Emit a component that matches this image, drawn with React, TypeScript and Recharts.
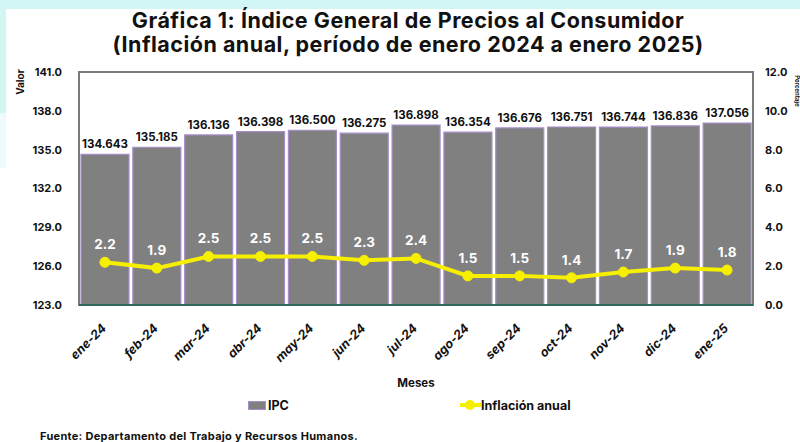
import React from 'react';
import {
  ComposedChart, Bar, Line, XAxis, YAxis, LabelList, ReferenceArea,
} from 'recharts';

const months = ['ene-24', 'feb-24', 'mar-24', 'abr-24', 'may-24', 'jun-24', 'jul-24', 'ago-24', 'sep-24', 'oct-24', 'nov-24', 'dic-24', 'ene-25'];
const ipcValues = [134.643, 135.185, 136.136, 136.398, 136.5, 136.275, 136.898, 136.354, 136.676, 136.751, 136.744, 136.836, 137.056];
const inflationValues = [2.2, 1.9, 2.5, 2.5, 2.5, 2.3, 2.4, 1.5, 1.5, 1.4, 1.7, 1.9, 1.8];
const leftTicks = [123, 126, 129, 132, 135, 138, 141];
const rightTicks = [0, 2, 4, 6, 8, 10, 12];

const data = months.map((m, i) => ({ month: m, ipc: ipcValues[i], inflacion: inflationValues[i] }));

const FONT = "Inter, 'Open Sans', sans-serif";
const YELLOW = '#f7ef00';
const BAR_FILL = '#808080';
const BAR_STROKE = '#a68cc8';

const XTick = (props: any) => {
  const { x, y, payload } = props;
  return (
    <g transform={`translate(${x + 2},${y + 16}) rotate(-45)`}>
      <text x={0} y={0} textAnchor="end"
        fontFamily={FONT} fontStyle="italic" fontWeight={700} fontSize={12.5} fill="#111">
        {payload.value}
      </text>
    </g>
  );
};

const ValorLabel = (props: any) => {
  const { viewBox } = props;
  return (
    <text x={viewBox.x + 24} y={viewBox.y + 10} transform={`rotate(-90, ${viewBox.x + 24}, ${viewBox.y + 10})`}
      textAnchor="middle" fontFamily={FONT} fontWeight={700} fontSize={10} fill="#111">Valor</text>
  );
};

const RightLabel = (props: any) => {
  const { viewBox } = props;
  const x = viewBox.x + viewBox.width - 5;
  const y = viewBox.y + 19;
  return (
    <text x={x} y={y} transform={`rotate(90, ${x}, ${y})`}
      textAnchor="middle" fontFamily={FONT} fontWeight={700} fontSize={6} fill="#111">Porcentaje</text>
  );
};

export default function App() {
  return (
    <div style={{ position: 'absolute', left: 0, top: 0, width: 800, height: 442, background: '#ffffff', overflow: 'hidden', fontFamily: FONT }}>
      <div style={{ position: 'absolute', left: 0, top: 0, width: 800, height: 9, background: '#d2f6f4' }} />
      <div style={{ position: 'absolute', left: 0, top: 0, width: 6, height: 113, background: '#d2f6f4' }} />
      <div style={{ position: 'absolute', left: 0, top: 113, width: 6, height: 55, background: '#eefbfa' }} />
      <div style={{ position: 'absolute', left: 0, top: 8, width: 800, textAlign: 'center', fontWeight: 700, fontSize: 21.5, lineHeight: '24px', color: '#111', letterSpacing: 0.5 }}>
        <div style={{ paddingLeft: 16 }}>Gráfica 1: Índice General de Precios al Consumidor</div>
        <div style={{ paddingLeft: 16 }}>(Inflación anual, período de enero 2024 a enero 2025)</div>
      </div>
      <div style={{ position: 'absolute', left: 0, top: 0 }}>
        <ComposedChart width={800} height={442} data={data}
          margin={{ top: 72, right: 0, left: 0, bottom: 47 }} barCategoryGap={2}>
          <XAxis dataKey="month" xAxisId={0} height={90} tick={<XTick />} tickLine={false} tickSize={0} tickMargin={8}
            axisLine={{ stroke: '#2d6a5d', strokeWidth: 2 }} interval={0}
            label={{ value: 'Meses', position: 'insideBottom', offset: 8, fontFamily: FONT, fontWeight: 700, fontSize: 11.5, fill: '#111' }} />
          <YAxis yAxisId="left" orientation="left" width={79} domain={[123, 141]} ticks={leftTicks} type="number"
            allowDataOverflow tickFormatter={(v: number) => v.toFixed(1)} axisLine={false} tickLine={false} tickSize={0} tickMargin={17}
            tick={{ fontFamily: FONT, fontWeight: 700, fontSize: 11, fill: '#111' }} label={<ValorLabel />} />
          <YAxis yAxisId="right" orientation="right" width={47} domain={[0, 12]} ticks={rightTicks} type="number"
            tickFormatter={(v: number) => v.toFixed(1)} axisLine={false} tickLine={false} tickSize={0} tickMargin={12}
            tick={{ fontFamily: FONT, fontWeight: 700, fontSize: 11, fill: '#111', textAnchor: 'start' }} label={<RightLabel />} />
          <ReferenceArea yAxisId="left" y1={123} y2={141} fill="none" stroke="#7a7a7a" strokeWidth={2} ifOverflow="visible" />
          <Bar yAxisId="left" dataKey="ipc" name="IPC" fill={BAR_FILL} stroke={BAR_STROKE} strokeWidth={1.2} isAnimationActive={false}>
            <LabelList dataKey="ipc" position="top" offset={6} formatter={(v: any) => Number(v).toFixed(3)}
              style={{ fontFamily: FONT, fontWeight: 700, fontSize: 11.5, fill: '#111' }} />
          </Bar>
          <Line yAxisId="right" dataKey="inflacion" name="Inflación anual" stroke={YELLOW} strokeWidth={4}
            dot={{ r: 5, fill: YELLOW, stroke: YELLOW, strokeWidth: 1 }} isAnimationActive={false}>
            <LabelList dataKey="inflacion" position="top" offset={13} formatter={(v: any) => Number(v).toFixed(1)}
              style={{ fontFamily: FONT, fontWeight: 700, fontSize: 13.5, fill: '#ffffff' }} />
          </Line>
        </ComposedChart>
      </div>
      <div style={{ position: 'absolute', left: 248, top: 396, height: 18, display: 'flex', alignItems: 'center', fontWeight: 700, fontSize: 12.5, color: '#111' }}>
        <span style={{ display: 'inline-block', width: 16, height: 7, background: BAR_FILL, border: `1px solid ${BAR_STROKE}`, marginRight: 2 }} />
        <span>IPC</span>
      </div>
      <div style={{ position: 'absolute', left: 460, top: 396, height: 18, display: 'flex', alignItems: 'center', fontWeight: 700, fontSize: 12.5, color: '#111' }}>
        <svg width={21} height={12} style={{ marginRight: 0 }}>
          <line x1={0} y1={6} x2={21} y2={6} stroke={YELLOW} strokeWidth={4} />
          <circle cx={10} cy={6} r={5} fill={YELLOW} />
        </svg>
        <span>Inflación anual</span>
      </div>
      <div style={{ position: 'absolute', left: 40, top: 429, fontWeight: 700, fontSize: 11, letterSpacing: 0.3, color: '#111' }}>
        Fuente: Departamento del Trabajo y Recursos Humanos.
      </div>
    </div>
  );
}
